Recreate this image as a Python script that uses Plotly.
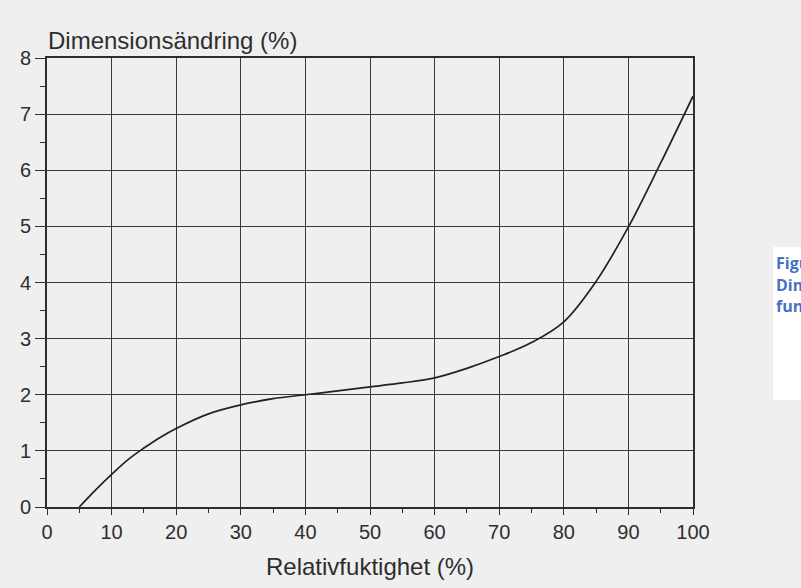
import plotly.graph_objects as go

# Dimensional change (%) versus relative humidity (%)
rh = [5, 7.5, 10, 12.5, 15, 17.5, 20, 25, 30, 35, 40, 45, 50, 55, 60, 65, 70, 75, 80, 85, 90, 95, 100]
change = [0, 0.30, 0.58, 0.84, 1.05, 1.24, 1.40, 1.66, 1.82, 1.93, 2.0, 2.07, 2.14, 2.21, 2.30,
          2.47, 2.68, 2.93, 3.30, 4.02, 4.99, 6.13, 7.32]

x_ticks = [0, 10, 20, 30, 40, 50, 60, 70, 80, 90, 100]
y_ticks = [0, 1, 2, 3, 4, 5, 6, 7, 8]

y_title = "Dimensionsändring (%)"
x_title = "Relativfuktighet (%)"
caption_lines = ["Figur", "Dimensionsändring", "funktion"]

ink = "#2e2e2e"
paper = "#efefef"
font_main = "Liberation Sans, Arial, sans-serif"

fig = go.Figure()
fig.add_trace(go.Scatter(
    x=rh, y=change, mode="lines",
    line=dict(color="#222222", width=1.7, shape="spline", smoothing=1.0),
    hoverinfo="skip", showlegend=False,
))

axis_common = dict(
    showline=True, linecolor=ink, linewidth=1.6, mirror=True,
    showgrid=True, gridcolor="#3a3a3a", gridwidth=1,
    zeroline=False, ticks="outside", tickcolor=ink, tickwidth=1.4,
    tickfont=dict(family=font_main, size=20, color=ink),
)

fig.update_xaxes(
    range=[0, 100], tickvals=x_ticks, ticktext=[str(v) for v in x_ticks],
    ticklen=6, minor=dict(dtick=5, ticks="outside", ticklen=4, tickcolor=ink, showgrid=False),
    **axis_common,
)
fig.update_yaxes(
    range=[0, 8], tickvals=y_ticks, ticktext=[str(v) for v in y_ticks],
    ticklen=10, minor=dict(dtick=0.5, ticks="outside", ticklen=5, tickcolor=ink, showgrid=False),
    **axis_common,
)

annotations = [
    dict(text=y_title, xref="paper", yref="paper", x=0, y=1, xanchor="left", yanchor="middle",
         xshift=-1, yshift=18, showarrow=False, font=dict(family=font_main, size=24, color=ink)),
    dict(text=x_title, xref="paper", yref="paper", x=0.5, y=0, xanchor="center", yanchor="middle",
         yshift=-59, showarrow=False, font=dict(family=font_main, size=24, color=ink)),
]
for i, line in enumerate(caption_lines):
    annotations.append(dict(
        text="<b>" + line + "</b>", xref="paper", yref="paper",
        x=(774 - 47) / 646, y=(507 - (263 + 21.5 * i)) / 449,
        xanchor="left", yanchor="middle", showarrow=False, align="left",
        font=dict(family="Open Sans, Liberation Sans, sans-serif", size=16, color="#4472C4"),
    ))

fig.update_layout(
    width=801, height=588,
    margin=dict(l=47, r=108, t=58, b=81),
    paper_bgcolor=paper, plot_bgcolor=paper,
    annotations=annotations,
    shapes=[dict(type="rect", xref="paper", yref="paper",
                 x0=(773 - 47) / 646, x1=(810 - 47) / 646,
                 y0=(507 - 400) / 449, y1=(507 - 247) / 449,
                 fillcolor="white", line=dict(width=0), layer="above")],
)

fig.write_html("out.html")
